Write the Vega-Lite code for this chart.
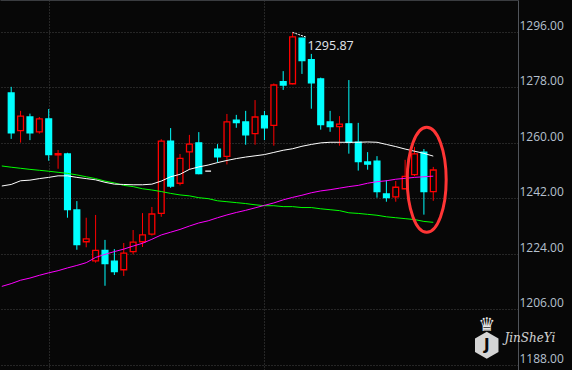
{
  "$schema": "https://vega.github.io/schema/vega-lite/v6.json",
  "width": 518,
  "height": 370,
  "autosize": {"type": "none"},
  "padding": {"left": 0, "top": 0, "right": 54, "bottom": 0},
  "background": "#070707",
  "config": {"view": {"stroke": null}},
  "datasets": {
    "candles": [
      {"i": 0, "o": 1276.2, "h": 1278.2, "l": 1261.3, "c": 1263.3, "d": "down"},
      {"i": 1, "o": 1264.0, "h": 1270.4, "l": 1260.1, "c": 1268.7, "d": "up"},
      {"i": 2, "o": 1268.4, "h": 1269.5, "l": 1260.9, "c": 1263.3, "d": "down"},
      {"i": 3, "o": 1263.6, "h": 1268.4, "l": 1263.0, "c": 1267.8, "d": "up"},
      {"i": 4, "o": 1267.8, "h": 1271.0, "l": 1254.2, "c": 1256.2, "d": "down"},
      {"i": 5, "o": 1256.1, "h": 1257.7, "l": 1251.6, "c": 1256.5, "d": "up"},
      {"i": 6, "o": 1256.4, "h": 1256.8, "l": 1235.7, "c": 1238.3, "d": "down"},
      {"i": 7, "o": 1238.2, "h": 1241.1, "l": 1225.3, "c": 1227.0, "d": "down"},
      {"i": 8, "o": 1227.9, "h": 1235.7, "l": 1226.1, "c": 1228.8, "d": "up"},
      {"i": 9, "o": 1221.7, "h": 1236.6, "l": 1221.1, "c": 1225.1, "d": "up"},
      {"i": 10, "o": 1225.1, "h": 1228.5, "l": 1213.6, "c": 1220.8, "d": "down"},
      {"i": 11, "o": 1221.6, "h": 1225.5, "l": 1217.1, "c": 1218.2, "d": "down"},
      {"i": 12, "o": 1218.8, "h": 1227.5, "l": 1216.8, "c": 1224.2, "d": "up"},
      {"i": 13, "o": 1224.7, "h": 1231.7, "l": 1223.8, "c": 1227.8, "d": "up"},
      {"i": 14, "o": 1227.9, "h": 1237.2, "l": 1226.2, "c": 1230.1, "d": "up"},
      {"i": 15, "o": 1230.4, "h": 1239.2, "l": 1229.9, "c": 1236.9, "d": "up"},
      {"i": 16, "o": 1237.1, "h": 1261.2, "l": 1236.0, "c": 1260.6, "d": "up"},
      {"i": 17, "o": 1260.6, "h": 1264.8, "l": 1245.4, "c": 1246.0, "d": "down"},
      {"i": 18, "o": 1246.9, "h": 1256.4, "l": 1246.2, "c": 1255.0, "d": "up"},
      {"i": 19, "o": 1257.1, "h": 1262.6, "l": 1251.2, "c": 1259.6, "d": "up"},
      {"i": 20, "o": 1260.0, "h": 1263.5, "l": 1249.8, "c": 1250.0, "d": "down"},
      {"i": 21, "o": 1250.8, "h": 1250.8, "l": 1250.8, "c": 1250.8, "d": "flat"},
      {"i": 22, "o": 1258.0, "h": 1259.6, "l": 1253.6, "c": 1255.5, "d": "down"},
      {"i": 23, "o": 1255.6, "h": 1269.4, "l": 1253.0, "c": 1266.8, "d": "up"},
      {"i": 24, "o": 1267.4, "h": 1269.1, "l": 1264.9, "c": 1266.6, "d": "down"},
      {"i": 25, "o": 1266.8, "h": 1270.4, "l": 1259.4, "c": 1262.6, "d": "down"},
      {"i": 26, "o": 1263.0, "h": 1273.9, "l": 1259.4, "c": 1268.4, "d": "up"},
      {"i": 27, "o": 1268.8, "h": 1270.4, "l": 1260.9, "c": 1264.9, "d": "down"},
      {"i": 28, "o": 1265.7, "h": 1279.3, "l": 1259.1, "c": 1278.8, "d": "up"},
      {"i": 29, "o": 1279.9, "h": 1283.3, "l": 1277.2, "c": 1278.8, "d": "down"},
      {"i": 30, "o": 1279.2, "h": 1295.87, "l": 1279.0, "c": 1294.4, "d": "up"},
      {"i": 31, "o": 1294.0, "h": 1294.1, "l": 1282.4, "c": 1286.7, "d": "down"},
      {"i": 32, "o": 1287.0, "h": 1288.9, "l": 1271.1, "c": 1279.5, "d": "down"},
      {"i": 33, "o": 1280.8, "h": 1281.2, "l": 1264.3, "c": 1265.9, "d": "down"},
      {"i": 34, "o": 1266.8, "h": 1270.4, "l": 1263.6, "c": 1265.3, "d": "down"},
      {"i": 35, "o": 1265.3, "h": 1268.7, "l": 1259.1, "c": 1266.1, "d": "up"},
      {"i": 36, "o": 1266.2, "h": 1280.4, "l": 1256.5, "c": 1260.2, "d": "down"},
      {"i": 37, "o": 1260.2, "h": 1266.5, "l": 1251.0, "c": 1253.9, "d": "down"},
      {"i": 38, "o": 1253.8, "h": 1257.0, "l": 1251.3, "c": 1253.1, "d": "down"},
      {"i": 39, "o": 1254.1, "h": 1255.7, "l": 1242.2, "c": 1244.2, "d": "down"},
      {"i": 40, "o": 1243.4, "h": 1247.9, "l": 1240.9, "c": 1242.2, "d": "down"},
      {"i": 41, "o": 1242.5, "h": 1247.6, "l": 1240.9, "c": 1245.6, "d": "up"},
      {"i": 42, "o": 1245.1, "h": 1254.5, "l": 1245.0, "c": 1249.1, "d": "up"},
      {"i": 43, "o": 1249.7, "h": 1258.7, "l": 1249.2, "c": 1256.4, "d": "up"},
      {"i": 44, "o": 1257.0, "h": 1258.0, "l": 1236.7, "c": 1244.2, "d": "down"},
      {"i": 45, "o": 1244.2, "h": 1252.2, "l": 1241.2, "c": 1251.2, "d": "up"}
    ],
    "ma": [
      {"i": -1, "w": 1246.0, "g": 1252.5, "m": 1213.4},
      {"i": 0, "w": 1246.5, "g": 1252.1, "m": 1214.3},
      {"i": 1, "w": 1247.7, "g": 1251.75, "m": 1215.4},
      {"i": 2, "w": 1247.9, "g": 1251.4, "m": 1216.1},
      {"i": 3, "w": 1248.4, "g": 1251.1, "m": 1217.0},
      {"i": 4, "w": 1248.8, "g": 1250.8, "m": 1217.8},
      {"i": 5, "w": 1249.3, "g": 1250.45, "m": 1218.5},
      {"i": 6, "w": 1249.3, "g": 1250.1, "m": 1219.4},
      {"i": 7, "w": 1248.8, "g": 1249.6, "m": 1220.2},
      {"i": 8, "w": 1248.4, "g": 1249.0, "m": 1221.1},
      {"i": 9, "w": 1248.0, "g": 1248.4, "m": 1222.8},
      {"i": 10, "w": 1247.2, "g": 1247.6, "m": 1223.8},
      {"i": 11, "w": 1246.6, "g": 1247.0, "m": 1224.7},
      {"i": 12, "w": 1246.5, "g": 1246.2, "m": 1225.5},
      {"i": 13, "w": 1246.4, "g": 1245.8, "m": 1226.5},
      {"i": 14, "w": 1246.4, "g": 1245.1, "m": 1227.4},
      {"i": 15, "w": 1246.6, "g": 1244.7, "m": 1228.7},
      {"i": 16, "w": 1247.6, "g": 1244.2, "m": 1230.1},
      {"i": 17, "w": 1249.0, "g": 1243.6, "m": 1231.0},
      {"i": 18, "w": 1249.8, "g": 1243.1, "m": 1231.9},
      {"i": 19, "w": 1251.4, "g": 1242.8, "m": 1233.0},
      {"i": 20, "w": 1252.2, "g": 1242.2, "m": 1234.0},
      {"i": 21, "w": 1252.8, "g": 1241.9, "m": 1234.7},
      {"i": 22, "w": 1253.6, "g": 1241.2, "m": 1235.7},
      {"i": 23, "w": 1254.3, "g": 1240.9, "m": 1236.6},
      {"i": 24, "w": 1254.9, "g": 1240.6, "m": 1237.4},
      {"i": 25, "w": 1255.4, "g": 1240.3, "m": 1238.1},
      {"i": 26, "w": 1255.8, "g": 1239.9, "m": 1238.9},
      {"i": 27, "w": 1256.2, "g": 1239.6, "m": 1239.7},
      {"i": 28, "w": 1256.9, "g": 1239.6, "m": 1240.5},
      {"i": 29, "w": 1257.6, "g": 1239.3, "m": 1241.5},
      {"i": 30, "w": 1258.1, "g": 1239.3, "m": 1242.3},
      {"i": 31, "w": 1258.9, "g": 1239.0, "m": 1243.0},
      {"i": 32, "w": 1259.5, "g": 1239.0, "m": 1243.8},
      {"i": 33, "w": 1260.0, "g": 1238.6, "m": 1244.4},
      {"i": 34, "w": 1260.2, "g": 1238.3, "m": 1244.8},
      {"i": 35, "w": 1260.2, "g": 1238.0, "m": 1245.3},
      {"i": 36, "w": 1260.2, "g": 1237.3, "m": 1245.8},
      {"i": 37, "w": 1260.2, "g": 1237.1, "m": 1246.2},
      {"i": 38, "w": 1260.3, "g": 1236.8, "m": 1246.9},
      {"i": 39, "w": 1260.2, "g": 1236.5, "m": 1247.4},
      {"i": 40, "w": 1259.5, "g": 1236.0, "m": 1247.7},
      {"i": 41, "w": 1258.8, "g": 1235.7, "m": 1248.2},
      {"i": 42, "w": 1258.0, "g": 1235.4, "m": 1248.5},
      {"i": 43, "w": 1257.3, "g": 1235.1, "m": 1248.8},
      {"i": 44, "w": 1256.6, "g": 1234.5, "m": 1249.0},
      {"i": 45, "w": 1255.7, "g": 1234.2, "m": 1249.2}
    ],
    "peak": [{"i": 30, "v": 1295.87, "i2": 31.5, "v2": 1294.3, "label": "1295.87"}],
    "circle": [{"i": 44.3, "v": 1248.0}],
    "mark": [{"i": 55.3, "v": 1196.6, "label": "JinSheYi"}],
    "logo": [{"i": 50.7, "v": 1194.3, "crown": "♛", "inner": "J"}]
  },
  "encoding": {
    "x": {
      "field": "i", "type": "quantitative",
      "scale": {"domain": [-0.66, 53.5], "nice": false, "zero": false},
      "axis": {
        "orient": "top", "values": [4, 27], "labels": false, "ticks": false, "title": null,
        "grid": true, "gridColor": "#464646", "gridDash": [1, 2], "gridWidth": 1,
        "domain": true, "domainColor": "#3a3c40", "domainWidth": 1
      }
    }
  },
  "layer": [
    {
      "data": {"name": "candles"},
      "mark": {"type": "rule", "strokeWidth": 1},
      "encoding": {
        "y": {
          "field": "l", "type": "quantitative",
          "scale": {"domain": [1186.25, 1306.4], "nice": false, "zero": false},
          "axis": {
            "orient": "right", "values": [1188, 1206, 1224, 1242, 1260, 1278, 1296],
            "format": ".2f", "title": null, "ticks": false, "labelPadding": 1,
            "labelFont": "Open Sans", "labelFontSize": 12, "labelColor": "#b6c1cf",
            "labelBaseline": "alphabetic", "labelOffset": -2.5, "labelAlign": "left",
            "grid": true, "gridColor": "#474747", "gridDash": [1, 2], "gridWidth": 1,
            "domain": true, "domainColor": "#50545a", "domainWidth": 1
          }
        },
        "y2": {"field": "h"},
        "color": {
          "field": "d", "type": "nominal", "legend": null,
          "scale": {"domain": ["up", "down", "flat"], "range": ["#ff0000", "#00ffff", "#ffffff"]}
        }
      }
    },
    {
      "data": {"name": "candles"},
      "mark": {"type": "bar", "size": 5.8, "strokeWidth": 1.3},
      "encoding": {
        "y": {"field": "o", "type": "quantitative", "title": null},
        "y2": {"field": "c"},
        "fill": {
          "field": "d", "type": "nominal", "legend": null,
          "scale": {"domain": ["up", "down", "flat"], "range": ["#070707", "#00ffff", "#ffffff"]}
        },
        "stroke": {
          "field": "d", "type": "nominal", "legend": null,
          "scale": {"domain": ["up", "down", "flat"], "range": ["#ff0000", "#00ffff", "#ffffff"]}
        }
      }
    },
    {
      "data": {"name": "ma"},
      "mark": {"type": "line", "color": "#00ff00", "strokeWidth": 1, "clip": true},
      "encoding": {
        "y": {"field": "g", "type": "quantitative", "title": null}
      }
    },
    {
      "data": {"name": "ma"},
      "mark": {"type": "line", "color": "#ff00ff", "strokeWidth": 1, "clip": true},
      "encoding": {
        "y": {"field": "m", "type": "quantitative", "title": null}
      }
    },
    {
      "data": {"name": "ma"},
      "mark": {"type": "line", "color": "#ffffff", "strokeWidth": 1, "clip": true},
      "encoding": {
        "y": {"field": "w", "type": "quantitative", "title": null}
      }
    },
    {
      "data": {"name": "peak"},
      "mark": {"type": "rule", "color": "#ffffff", "strokeWidth": 1, "strokeDash": [2, 1]},
      "encoding": {
        "y": {"field": "v", "type": "quantitative", "title": null},
        "x2": {"field": "i2"},
        "y2": {"field": "v2"}
      }
    },
    {
      "data": {"name": "peak"},
      "mark": {"type": "text", "align": "left", "baseline": "middle", "dx": 15, "dy": 14, "font": "Open Sans", "fontSize": 12.5, "color": "#e2e6ec"},
      "encoding": {
        "y": {"field": "v", "type": "quantitative", "title": null},
        "text": {"field": "label"}
      }
    },
    {
      "data": {"name": "circle"},
      "mark": {
        "type": "point", "filled": false, "opacity": 1, "stroke": "#ff3535", "strokeWidth": 3, "size": 11025,
        "shape": "M-0.371,0A0.371,1,0,1,0,0.371,0A0.371,1,0,1,0,-0.371,0Z"
      },
      "encoding": {
        "y": {"field": "v", "type": "quantitative", "title": null}
      }
    },
    {
      "data": {"name": "logo"},
      "mark": {
        "type": "point", "filled": true, "opacity": 0.92, "color": "#e6e6e6", "size": 729,
        "shape": "M0,-1L0.87,-0.5L0.87,0.5L0,1L-0.87,0.5L-0.87,-0.5Z"
      },
      "encoding": {
        "y": {"field": "v", "type": "quantitative", "title": null}
      }
    },
    {
      "data": {"name": "logo"},
      "mark": {"type": "text", "align": "center", "baseline": "middle", "font": "DejaVu Sans", "fontWeight": "bold", "fontSize": 15, "color": "#070707"},
      "encoding": {
        "y": {"field": "v", "type": "quantitative", "title": null},
        "text": {"field": "inner"}
      }
    },
    {
      "data": {"name": "logo"},
      "mark": {"type": "text", "align": "center", "baseline": "middle", "dy": -20, "font": "DejaVu Sans", "fontSize": 19, "color": "#e6e6e6"},
      "encoding": {
        "y": {"field": "v", "type": "quantitative", "title": null},
        "text": {"field": "crown"}
      }
    },
    {
      "data": {"name": "mark"},
      "mark": {"type": "text", "align": "center", "baseline": "middle", "font": "DejaVu Serif", "fontStyle": "italic", "fontSize": 12, "color": "#e8e8e8", "opacity": 0.9},
      "encoding": {
        "y": {"field": "v", "type": "quantitative", "title": null},
        "text": {"field": "label"}
      }
    }
  ]
}
